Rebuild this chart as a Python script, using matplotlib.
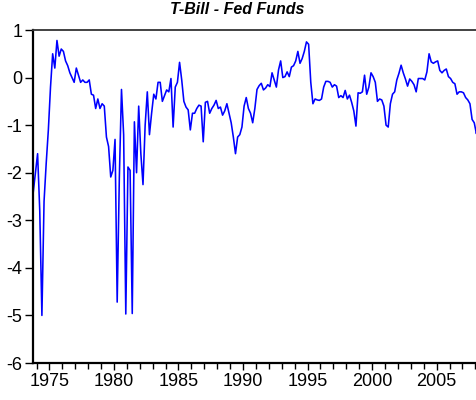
import numpy as np
import pandas as pd
import matplotlib
matplotlib.use("Agg")
import matplotlib.pyplot as plt
from matplotlib.ticker import MultipleLocator

plt.rcParams['font.family'] = ['Liberation Sans', 'DejaVu Sans']
plt.rcParams['axes.unicode_minus'] = False

title = "T-Bill - Fed Funds"
start_month = "1973-10-01"   # bimonthly observations

spread_1970s = [-2.4, -2.0,
                -1.6, -2.8, -5.0, -2.6, -1.8, -1.1,
                -0.2, 0.5, 0.2, 0.78, 0.45, 0.6,
                0.55, 0.35, 0.25, 0.1, 0.0, -0.1,
                0.2, 0.05, -0.1, -0.05, -0.1, -0.1,
                -0.05, -0.35, -0.37, -0.65, -0.45, -0.65,
                -0.55, -0.6, -1.25, -1.45, -2.09, -1.95]
spread_1980s = [-1.3, -4.72, -2.1, -0.25, -1.2, -4.97,
                -1.88, -1.95, -4.96, -0.93, -2.0, -0.6,
                -1.6, -2.25, -1.0, -0.3, -1.2, -0.75,
                -0.35, -0.45, -0.1, -0.1, -0.5, -0.38,
                -0.26, -0.3, -0.02, -1.04, -0.2, -0.1,
                0.32, -0.05, -0.5, -0.62, -0.68, -1.1,
                -0.75, -0.75, -0.65, -0.58, -0.6, -1.35,
                -0.52, -0.5, -0.75, -0.65, -0.58, -0.48,
                -0.65, -0.62, -0.79, -0.7, -0.55, -0.75,
                -0.95, -1.25, -1.6, -1.25, -1.2, -1.04]
spread_1990s = [-0.6, -0.42, -0.65, -0.75, -0.95, -0.65,
                -0.25, -0.17, -0.12, -0.26, -0.22, -0.15,
                -0.19, 0.1, -0.05, -0.2, 0.16, 0.35,
                0.0, 0.02, 0.12, 0.02, 0.22, 0.25,
                0.35, 0.55, 0.3, 0.4, 0.55, 0.75,
                0.7, -0.1, -0.55, -0.45, -0.47, -0.48,
                -0.45, -0.2, -0.08, -0.08, -0.1, -0.2,
                -0.15, -0.18, -0.42, -0.38, -0.42, -0.27,
                -0.45, -0.37, -0.52, -0.7, -1.02, -0.32,
                -0.33, -0.3, 0.05, -0.35, -0.2, 0.1]
spread_2000s = [0.02, -0.1, -0.5, -0.45, -0.47, -0.6,
                -1.0, -1.04, -0.55, -0.35, -0.3, -0.05,
                0.09, 0.26, 0.1, -0.03, -0.18, -0.03,
                -0.08, -0.15, -0.3, -0.02, -0.02, -0.02,
                -0.05, 0.12, 0.5, 0.33, 0.3, 0.33,
                0.35, 0.15, 0.1, 0.15, 0.18, 0.02,
                -0.02, -0.1, -0.13, -0.35, -0.3, -0.3,
                -0.32, -0.42, -0.47, -0.55, -0.88, -0.95,
                -1.18, -0.95]

values = np.array(spread_1970s + spread_1980s + spread_1990s + spread_2000s)
dates = pd.date_range(start_month, periods=len(values), freq="2MS")
xdec = dates.year + (dates.month - 1) / 12.0

fig = plt.figure(figsize=(4.77, 4.0), dpi=100)
ax = fig.add_axes([33.3 / 477, 37 / 400, 1 - 33.3 / 477, 333 / 400])
ax.plot(xdec, values, color="#0000ff", lw=1.15)

ax.set_xlim(1973.75, 2008.13)
ax.set_ylim(-6, 1)
ax.xaxis.set_major_locator(MultipleLocator(5))
ax.xaxis.set_minor_locator(MultipleLocator(1))
ax.yaxis.set_major_locator(MultipleLocator(1))
ax.xaxis.set_major_formatter(matplotlib.ticker.FuncFormatter(lambda v, p: f"{int(round(v))}"))
ax.yaxis.set_major_formatter(matplotlib.ticker.FuncFormatter(lambda v, p: f"{int(round(v))}"))

ax.tick_params(axis='x', which='major', direction='out', length=5, width=1, labelsize=13, pad=2)
ax.tick_params(axis='x', which='minor', direction='out', length=4, width=1)
ax.tick_params(axis='y', which='major', direction='out', length=6, width=1, labelsize=13, pad=2)
ax.spines['right'].set_visible(False)
for s in ['left', 'bottom']:
    ax.spines[s].set_linewidth(1.6)
ax.spines['top'].set_linewidth(1.3)
ax.spines['top'].set_color('#333333')

fig.text(0.497, 0.975, title, ha='center', va='center', fontsize=11.5,
         fontweight='bold', fontstyle='italic')

fig.savefig("out.png", dpi=100)
